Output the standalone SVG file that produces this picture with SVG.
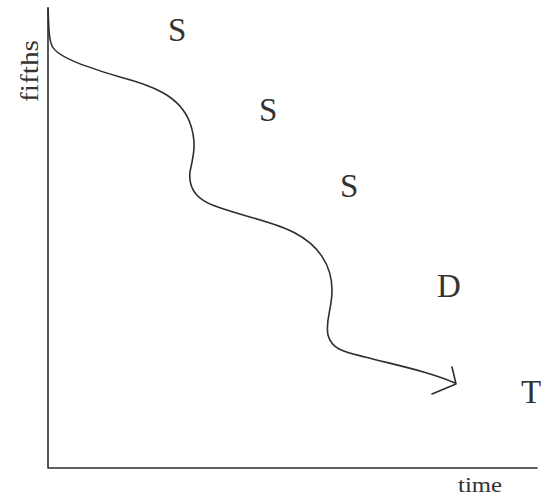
<svg xmlns="http://www.w3.org/2000/svg" width="544" height="498" viewBox="0 0 544 498">
<style>
.ln{fill:none;stroke:#2e2e2e;stroke-width:1.6;stroke-linecap:round;stroke-linejoin:round}
.lbl{fill:#333}
.big{font-size:33px}
</style>
<rect width="544" height="498" fill="#ffffff"/>
<g id="axes">
<path class="ln" d="M48,8 L48,468 L537,468"/>
<text class="lbl" font-family="Liberation Serif, Times New Roman, serif" x="458" y="492" font-size="20" textLength="44" lengthAdjust="spacingAndGlyphs">time</text>
<text class="lbl" font-family="Liberation Serif, Times New Roman, serif" transform="translate(38,102) rotate(-90)" font-size="25" textLength="62" lengthAdjust="spacingAndGlyphs">fifths</text>
</g>
<g id="curve">
<path class="ln" d="M48,8 C49,25 48,38 52,46 C58,58 90,68 120,77 C150,85 180,95 190,123 C198,145 192,160 190,172 C188,190 198,200 215,206 C245,217 275,222 295,233 C318,245 332,265 332,290 C332,310 325,320 328,335 C332,350 345,352 365,357 C400,366 430,372 455,383"/>
<path class="ln" d="M452,367 L456,384 L432,394"/>
</g>
<g id="labels" font-family="Liberation Serif, Times New Roman, serif">
<text class="lbl big" x="168" y="41">S</text>
<text class="lbl big" x="259" y="121">S</text>
<text class="lbl big" x="340" y="197">S</text>
<text class="lbl big" x="437" y="297">D</text>
<text class="lbl big" x="521" y="403">T</text>
</g>
</svg>
